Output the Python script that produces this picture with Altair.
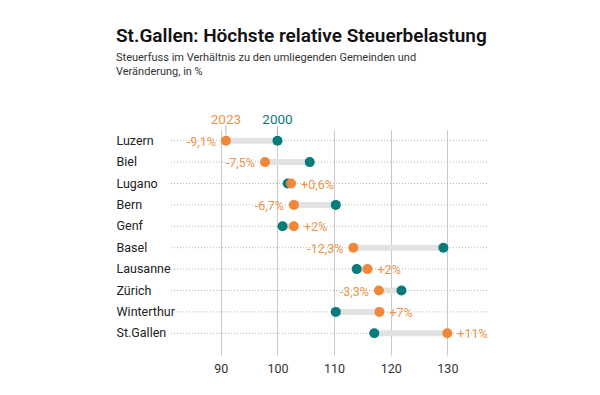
import altair as alt
import pandas as pd

cities = ["Luzern", "Biel", "Lugano", "Bern", "Genf", "Basel", "Lausanne", "Zürich", "Winterthur", "St.Gallen"]
v2000 = [100.0, 105.7, 101.8, 110.3, 100.9, 129.3, 114.0, 121.9, 110.3, 117.1]
v2023 = [90.9, 97.8, 102.4, 102.9, 102.9, 113.4, 115.9, 117.9, 118.0, 130.0]
changes = ["-9,1%", "-7,5%", "+0,6%", "-6,7%", "+2%", "-12,3%", "+2%", "-3,3%", "+7%", "+11%"]
x_ticks = [90, 100, 110, 120, 130]

ORANGE = "#F0883A"
ORANGE_TXT = "#EC9548"
TEAL = "#087B7B"
FONT = "Roboto"

df = pd.DataFrame({"city": cities, "y2000": v2000, "y2023": v2023, "chg": changes})
df["neg"] = df["chg"].str.startswith("-")

W, H = 316, 225

xs = alt.Scale(domain=[81.2, 137], nice=False, zero=False)
ys = alt.Scale(domain=cities, paddingInner=0, paddingOuter=0.257, align=0)

y_enc = alt.Y("city:N", scale=ys, sort=cities, title=None,
              axis=alt.Axis(labelAlign="left", labelPadding=55, ticks=False, domain=False,
                            labelFont=FONT, labelFontSize=12.5, labelColor="#222"))
x_axis = alt.Axis(values=x_ticks, grid=True, gridColor="#c9c9c9", gridWidth=1, ticks=False,
                  domain=False, labelFont=FONT, labelFontSize=12.5, labelColor="#333",
                  labelPadding=7, title=None)

base = alt.Chart(df)

rows = base.mark_rule(color="#b5b5b5", strokeDash=[1, 2], strokeWidth=1).encode(
    y=y_enc, x=alt.value(0), x2=alt.value(W))

bars = base.mark_rule(color="#e2e2e2", strokeWidth=6).encode(
    y=y_enc, x=alt.X("y2000:Q", scale=xs, axis=x_axis), x2="y2023:Q")

p2000 = base.mark_circle(color=TEAL, opacity=1, size=100).encode(
    y=y_enc, x=alt.X("y2000:Q", scale=xs))
p2023 = base.mark_circle(color=ORANGE, opacity=1, size=100).encode(
    y=y_enc, x=alt.X("y2023:Q", scale=xs))

lab_neg = base.transform_filter("datum.neg").mark_text(
    align="right", baseline="middle", dx=-10, dy=1, font=FONT, fontSize=12.5, color=ORANGE_TXT
).encode(y=y_enc, x=alt.X("y2023:Q", scale=xs), text="chg:N")
lab_pos = base.transform_filter("!datum.neg").mark_text(
    align="left", baseline="middle", dx=10, dy=1, font=FONT, fontSize=12.5, color=ORANGE_TXT
).encode(y=y_enc, x=alt.X("y2023:Q", scale=xs), text="chg:N")

first = base.transform_filter(alt.datum.city == cities[0])
tick00 = first.mark_tick(orient="vertical", size=9, thickness=1, yOffset=-10.5, color="#999").encode(
    y=y_enc, x=alt.X("y2000:Q", scale=xs))
tick23 = first.mark_tick(orient="vertical", size=9, thickness=1, yOffset=-10.5, color="#999").encode(
    y=y_enc, x=alt.X("y2023:Q", scale=xs))
s00 = first.mark_text(text="2000", baseline="middle", dy=-21, font=FONT, fontSize=13.5, color=TEAL).encode(
    y=y_enc, x=alt.X("y2000:Q", scale=xs))
s23 = first.mark_text(text="2023", baseline="middle", dy=-21, font=FONT, fontSize=13.5, color=ORANGE_TXT).encode(
    y=y_enc, x=alt.X("y2023:Q", scale=xs))

chart = alt.layer(rows, bars, tick00, tick23, p2000, p2023, lab_neg, lab_pos, s00, s23).properties(
    width=W, height=H,
    padding={"left": 108, "top": 18, "right": 5, "bottom": 5},
    title=alt.TitleParams(
        text="St.Gallen: Höchste relative Steuerbelastung",
        subtitle=["Steuerfuss im Verhältnis zu den umliegenden Gemeinden und", "Veränderung, in %"],
        anchor="start", frame="bounds", font=FONT, fontSize=19, fontWeight=600, color="#111",
        subtitleFont=FONT, subtitleFontSize=11, subtitleColor="#333", subtitleLineHeight=14,
        subtitlePadding=6, offset=36),
).configure(background="white").configure_view(stroke=None)

chart.save("out.html", embed_options={"renderer": "svg", "actions": False})
